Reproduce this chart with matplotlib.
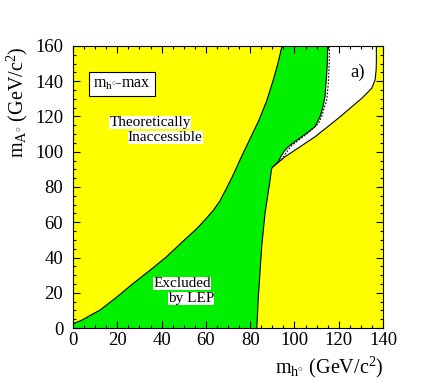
import numpy as np
from matplotlib import pyplot as plt

plt.rcParams['font.family'] = ['Liberation Serif', 'DejaVu Serif']
plt.rcParams['mathtext.fontset'] = 'custom'
plt.rcParams['mathtext.rm'] = 'Liberation Serif'
plt.rcParams['mathtext.it'] = 'Liberation Serif:italic'

# theoretical limit (left edge of the green area)
theoryX = [0, 0.3, 2.4, 4.7, 8, 12.2, 20, 27.2, 35, 42.3, 50.6, 56, 60.4, 63.5, 66.3, 69, 72, 76, 80, 84, 87.5, 90.5, 92.5, 94.4]
theoryY = [0, 2.6, 3.6, 4.9, 7.3, 10.2, 17.8, 25.3, 33, 40.5, 50.3, 56.5, 62.5, 67, 72, 78.5, 86, 97, 107.5, 118, 129, 141, 150, 160]

# LEP exclusion limit (right edge of the green area), top to bottom
lepX = [115, 114.9, 114.6, 113.8, 112.8, 111.6, 109.3, 106, 103.3, 100, 97.3, 95.5, 94.3, 92.7, 90.8, 89.7, 89, 86.7, 85.2, 83.7, 83]
lepY = [160, 152, 144.5, 131.2, 125, 120, 114.2, 111, 108.5, 105.5, 102.9, 100.5, 98.2, 94.4, 92, 90.5, 84, 65, 46, 17.8, 0]

# theoretical limit in the upper right (right edge of the white area), bottom to top
edgeX = [90.8, 95.8, 109.3, 119.8, 130.4, 134.9, 136.4, 136.9, 137, 137]
edgeY = [92, 97.2, 108.5, 119, 130.3, 136, 140.7, 146.5, 152, 160]

# expected limit (dotted)
dotX = [115.8, 115.7, 115.3, 114.6, 112.3, 110.8, 106, 101.8, 98.5, 96.8, 94.8, 93.5]
dotY = [160, 150, 138.8, 129.4, 120, 116, 110.5, 106.5, 103.2, 100.5, 96.8, 94.5]

xTicks = [0, 20, 40, 60, 80, 100, 120, 140]
yTicks = [0, 20, 40, 60, 80, 100, 120, 140, 160]


def plotExclusion():
    fig = plt.figure(figsize=(4.27, 3.83), dpi=100)
    ax = fig.add_axes([0.171, 0.1436, 0.726, 0.7363])
    ax.set_facecolor('#ffff00')

    # green area: theory line up, top edge, LEP limit down
    greenX = theoryX + lepX + [0]
    greenY = theoryY + lepY + [0]
    ax.fill(greenX, greenY, color='#00f000', lw=0, zorder=1)

    # white area above the kink
    k = lepY.index(92)
    whiteX = lepX[:k + 1] + edgeX + [115]
    whiteY = lepY[:k + 1] + edgeY + [160]
    ax.fill(whiteX, whiteY, color='white', lw=0, zorder=1)

    ax.plot(theoryX, theoryY, color='black', lw=0.8, zorder=2)
    ax.plot(lepX, lepY, color='black', lw=0.8, zorder=2)
    ax.plot(edgeX, edgeY, color='black', lw=0.8, zorder=2)
    ax.plot(dotX, dotY, color='black', lw=0.8, ls=(0, (1.5, 1.5)), zorder=2)

    ax.set_xlim(0, 140)
    ax.set_ylim(0, 160)
    ax.set_xticks(xTicks)
    ax.set_yticks(yTicks)
    ax.set_xticks(np.arange(0, 141, 5), minor=True)
    ax.set_yticks(np.arange(0, 161, 5), minor=True)
    ax.tick_params(which='both', direction='in', top=True, right=True, labelsize=13.5)
    ax.tick_params(which='major', length=5, width=0.8)
    ax.tick_params(which='minor', length=2.5, width=0.8)
    ax.tick_params(axis='x', pad=3)
    ax.tick_params(axis='y', pad=7)

    ax.set_xlabel(r'm$_{\mathrm{h}^{\circ}}$ (GeV/c$^{2}$)', fontsize=14.5, ha='right', va='top')
    ax.xaxis.set_label_coords(1.0, -0.095)
    ax.set_ylabel(r'm$_{\mathrm{A}^{\circ}}$ (GeV/c$^{2}$)', fontsize=14.5, ha='right')
    ax.yaxis.set_label_coords(-0.14, 1.0)

    ax.text(22.1, 138.4, r'm$_{\mathrm{h}^{\circ}}$-max', fontsize=11.5, ha='center', va='center',
            bbox=dict(boxstyle='square,pad=0.25', fc='white', ec='black', lw=0.8), zorder=3)
    white = dict(boxstyle='square,pad=0.0', fc='white', ec='none')
    ax.text(34.8, 116.6, 'Theoretically', fontsize=11, ha='center', va='center', bbox=white, zorder=3)
    ax.text(41.6, 108.2, 'Inaccessible', fontsize=11, ha='center', va='center', bbox=white, zorder=3)
    ax.text(49.2, 25.3, 'Excluded', fontsize=11, ha='center', va='center', bbox=white, zorder=3)
    ax.text(53.4, 16.8, 'by LEP', fontsize=11, ha='center', va='center', bbox=white, zorder=3)
    ax.text(128.7, 145, 'a)', fontsize=13.5, ha='center', va='center', zorder=3)

    fig.savefig('out.png', dpi=100)
    plt.close()


def main():
    plotExclusion()


if __name__ == '__main__':
    main()
